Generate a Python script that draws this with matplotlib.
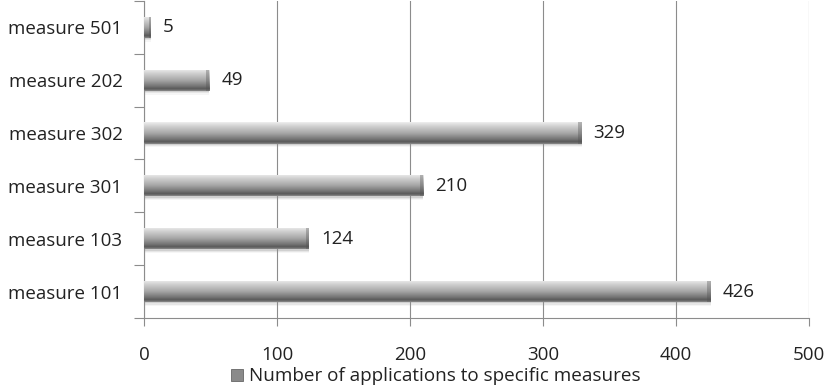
import matplotlib.pyplot as plt
import numpy as np
from matplotlib.colors import LinearSegmentedColormap
from matplotlib.patches import Rectangle
from matplotlib.legend_handler import HandlerPatch

# Measures listed top to bottom, with number of applications
measures = ['measure 501', 'measure 202', 'measure 302', 'measure 301', 'measure 103', 'measure 101']
applications = [5, 49, 329, 210, 124, 426]
legend_label = 'Number of applications to specific measures'

plt.rcParams['font.family'] = ['Open Sans', 'DejaVu Sans']

# Shading for the bars: light on top, dark band near the bottom
shade = LinearSegmentedColormap.from_list('shade', [
    (0.0, '#efefef'), (0.15, '#d6d6d6'), (0.5, '#a8a8a8'),
    (0.8, '#707070'), (0.9, '#585858'), (1.0, '#8c8c8c')])
grad = np.linspace(0, 1, 256).reshape(-1, 1)

fig = plt.figure(figsize=(8.29, 3.85), dpi=100)
ax = fig.add_axes([0.1737, 0.174, 0.8022, 0.824])

ypos = np.arange(len(measures))
bars = ax.barh(ypos, applications, height=0.4, facecolor='none', edgecolor='none', zorder=3)

for bar, val in zip(bars, applications):
    x0, y0 = bar.get_x(), bar.get_y()
    w, h = bar.get_width(), bar.get_height()
    # soft shadow just under the bar
    for k, a in enumerate([0.25, 0.15, 0.08]):
        ax.add_patch(Rectangle((x0, y0 + h), w, 0.025 * (k + 1), facecolor='#909090',
                               edgecolor='none', alpha=a, zorder=2))
    im = ax.imshow(grad, cmap=shade, aspect='auto', extent=[x0, x0 + w, y0 + h, y0],
                   interpolation='bilinear', zorder=3)
    im.set_clip_path(bar)
    # darker bevel at the end of the bar
    bev = min(2.5, w * 0.3)
    ax.add_patch(Rectangle((x0 + w - bev, y0), bev, h, facecolor='#505050',
                           edgecolor='none', alpha=0.35, zorder=4))
    ax.text(val + 9, y0 + h / 2, str(val), va='center', ha='left', fontsize=13.5, color='#222222')

ax.set_xlim(0, 500)
ax.set_ylim(len(measures) - 0.5, -0.5)
ax.set_xticks(np.arange(0, 501, 100))
ax.set_yticks(ypos)
ax.set_yticklabels(measures)
ax.set_yticks(np.arange(-0.5, len(measures), 1), minor=True)

ax.grid(axis='x', color='#8c8c8c', linewidth=0.8, zorder=0)
ax.set_axisbelow(True)

for side in ['top', 'right']:
    ax.spines[side].set_visible(False)
for side in ['left', 'bottom']:
    ax.spines[side].set_color('#8c8c8c')
    ax.spines[side].set_linewidth(0.8)

ax.tick_params(axis='y', which='major', length=0, pad=15.5, labelsize=13.5, labelcolor='#222222')
ax.tick_params(axis='y', which='minor', length=7, color='#8c8c8c', width=0.8)
ax.tick_params(axis='x', length=6, color='#8c8c8c', width=0.8, pad=14,
               labelsize=13.5, labelcolor='#222222')


class GradientSquare(HandlerPatch):
    # legend key drawn as a small shaded square
    def create_artists(self, legend, orig_handle, xdescent, ydescent, width, height, fontsize, trans):
        sq = Rectangle((-xdescent, -ydescent), width, height, facecolor='#8a8a8a',
                       edgecolor='#666666', linewidth=0.6, transform=trans)
        return [sq]


handle = Rectangle((0, 0), 1, 1)
fig.legend([handle], [legend_label], loc='lower center', bbox_to_anchor=(0.526, -0.006),
           frameon=False, fontsize=13.6, handlelength=0.6, handleheight=0.6,
           handletextpad=0.35, labelcolor='#222222', borderpad=0.1, borderaxespad=0,
           handler_map={Rectangle: GradientSquare()})

fig.savefig('out.png', dpi=100)
